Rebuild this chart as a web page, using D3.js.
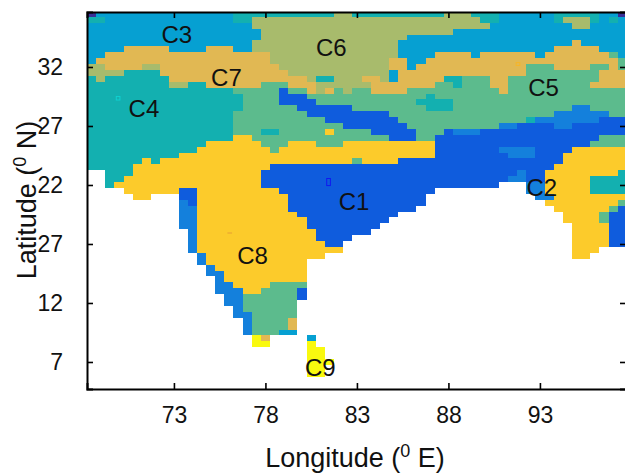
<!DOCTYPE html>
<html>
<head>
<meta charset="utf-8">
<script src="https://cdn.jsdelivr.net/npm/d3@7"></script>
<style>
  html, body { margin: 0; padding: 0; background: #fff; }
  svg { display: block; }
  text { font-family: "Liberation Sans", Arial, sans-serif; fill: #111; }
</style>
</head>
<body>
<svg id="map" width="625" height="473"></svg>
<script>
    // cluster grid, 0.5 degree cells, north to south
    // each token is code:endColumn, "." means no data
    var gridRows = [
      "0:1 3:16 4:27 6:29 4:39 6:42 4:45 3:51 4:56 3:58 0:59",
      "4:2 3:16 4:18 6:43 4:45 3:51 4:52 6:55 4:56 3:57 4:58 3:59",
      "3:18 6:44 3:53 6:55 3:59",
      "3:19 6:40 3:59",
      "3:19 6:35 3:59",
      "3:18 6:34 3:53 7:54 3:59",
      "3:4 7:9 3:13 7:16 3:18 6:34 3:51 7:56 3:59",
      "3:2 7:20 6:34 3:38 7:42 3:43 7:49 3:50 7:57 5:58 3:59",
      "3:1 7:20 6:33 7:35 3:37 7:58 5:59",
      "6:2 7:6 6:8 7:21 6:33 7:35 3:36 7:48 5:51 7:55 5:57 7:58 5:59",
      "6:4 4:8 7:22 6:33 3:34 7:48 5:56 7:59",
      "4:1 6:2 4:9 7:24 6:25 4:27 6:30 7:32 6:33 3:34 7:39 4:41 5:44 7:46 5:56 7:59",
      "4:9 6:11 4:13 7:19 5:22 7:25 6:31 7:38 5:40 4:41 5:44 7:46 5:55 7:59",
      "4:16 5:21 1:22 5:24 7:25 6:26 7:27 5:28 6:29 5:31 7:35 5:45 7:46 5:59",
      "4:17 5:21 1:24 5:37 4:38 5:59",
      "4:17 5:21 1:25 5:36 4:40 5:59",
      "4:17 5:23 1:29 5:37 4:40 5:53 2:55 5:59",
      "4:16 5:24 1:33 5:51 2:57 5:59",
      "4:16 5:26 1:34 5:48 4:49 2:56 1:59",
      "4:16 5:28 1:35 5:45 2:47 1:51 2:53 1:59",
      "4:16 5:19 4:21 5:26 8:27 5:31 1:36 5:39 1:40 2:43 1:59",
      "4:16 8:18 5:33 1:36 5:38 1:56 5:59",
      "4:13 8:19 5:22 8:25 5:28 8:38 1:55 5:59",
      "4:12 8:20 5:21 8:38 1:45 2:49 1:53 8:59",
      "4:10 8:38 1:46 2:49 1:52 8:59",
      "4:6 8:7 4:8 8:29 5:30 8:34 1:52 8:59",
      "4:5 8:20 1:51 8:59",
      ".:2 4:5 8:19 1:47 2:48 1:50 8:58 4:59",
      ".:2 4:4 8:19 1:46 2:48 1:50 8:55 4:59",
      ".:2 4:3 8:19 1:45 .:48 2:50 8:55 4:59",
      ".:4 8:10 1:12 8:21 1:38 .:48 2:50 8:55 4:59",
      ".:5 8:7 .:10 1:12 8:22 1:37 .:49 2:51 8:59",
      ".:10 2:11 1:12 8:22 1:37 .:50 8:58 5:59",
      ".:10 2:12 8:22 1:36 .:51 8:57 5:58 1:59",
      ".:10 2:12 8:23 1:34 .:52 8:56 5:57 1:59",
      ".:10 2:12 8:24 1:33 .:52 8:56 5:57 1:59",
      ".:10 2:12 8:24 1:32 .:53 8:57 1:59",
      ".:11 2:12 8:25 1:31 .:53 8:57 1:59",
      ".:11 2:12 8:25 1:29 .:53 8:57 1:59",
      ".:11 2:12 8:26 1:28 .:53 8:57 1:59",
      ".:11 2:12 8:28 .:53 8:56",
      ".:12 2:13 8:26 .:53 8:55",
      ".:12 2:13 8:24",
      ".:13 2:14 8:24",
      ".:13 2:15 8:24",
      ".:14 2:15 8:24",
      ".:14 2:16 8:20 5:24",
      ".:14 2:17 8:19 5:23 1:24",
      ".:15 2:17 5:23 1:24",
      ".:15 2:17 5:23",
      ".:16 2:17 5:23",
      ".:16 2:18 5:23",
      ".:17 2:18 5:22 7:23",
      ".:17 2:18 5:22 7:23",
      ".:17 2:18 5:21 3:23",
      ".:18 9:19 7:20 .:24 3:25",
      ".:18 9:20 .:24 9:25",
      ".:24 9:26",
      ".:24 9:26",
      ".:24 9:27",
      ".:24 9:26",
      ".:24 9:26"
    ];
    var firstLon = 68.5;
    var firstLat = 36.5;
    var cellDeg = 0.5;

    var clusterCodes = ['0', '1', '2', '3', '4', '5', '6', '7', '8', '9'];
    var clusterColors = ['#3a2e97', '#0f5cdd', '#1480dc', '#06a0d2', '#13b0b0',
      '#5cbb8d', '#a8bb6c', '#e1b853', '#fccb2b', '#f9f90f'];

    var lonTicks = [73, 78, 83, 88, 93];
    var latTicks = [32, 27, 22, 17, 12, 7];
    var latTickLabels = ['32', '27', '22', '27', '12', '7']; // the 17 really is printed as 27

    var labelNames = ['C1', 'C2', 'C3', 'C4', 'C5', 'C6', 'C7', 'C8', 'C9'];
    var labelLons = [82.84, 93.1, 73.16, 71.36, 93.2, 81.6, 75.87, 77.3, 81.0];
    var labelLats = [20.6, 21.8, 34.8, 28.5, 30.3, 33.7, 31.15, 16.0, 6.55];

    // odd single grid points that show as tiny outlined boxes
    var oddLons = [69.95, 81.45, 91.8, 76.05];
    var oddLats = [29.35, 22.25, 32.25, 17.93];
    var oddLatSpans = [0.3, 0.6, 0.25, 0.05];
    var oddColors = ['#10d0d0', '#1018f0', '#f5b52a', '#eeb030'];

    var margin = {
      top: 12,
      left: 87,
      bottom: 389
    };
    var width = 625;
    var height = 473;

    var svg = d3.select('#map');

    var xScale = d3.scaleLinear()
      .domain([68.25, 97.75])
      .range([margin.left, margin.left + 29.5 * 18.3]);
    var yScale = d3.scaleLinear()
      .domain([36.66, 4.71])
      .range([margin.top, margin.bottom]);
    var colorScale = d3.scaleOrdinal()
      .domain(clusterCodes)
      .range(clusterColors);

    // unpack the runs into one record per cell
    var cells = [];
    gridRows.forEach(function (row, r) {
      var col = 0;
      row.split(' ').forEach(function (token) {
        var parts = token.split(':');
        var end = +parts[1];
        for (; col < end; col++) {
          if (parts[0] !== '.') {
            cells.push({
              lon: firstLon + col * cellDeg,
              lat: firstLat - r * cellDeg,
              code: parts[0]
            });
          }
        }
      });
    });

    svg.append('clipPath').attr('id', 'plotClip')
      .append('rect')
      .attr('x', margin.left)
      .attr('y', margin.top)
      .attr('width', width - margin.left)
      .attr('height', margin.bottom - margin.top);

    var plot = svg.append('g').attr('clip-path', 'url(#plotClip)');

    plot.selectAll('rect.cell')
      .data(cells)
      .enter()
      .append('rect')
      .attr('class', 'cell')
      .attr('x', function (d) { return xScale(d.lon - cellDeg / 2); })
      .attr('y', function (d) { return yScale(d.lat + cellDeg / 2); })
      .attr('width', function (d) { return xScale(d.lon + cellDeg / 2) - xScale(d.lon - cellDeg / 2); })
      .attr('height', function (d) { return yScale(d.lat - cellDeg / 2) - yScale(d.lat + cellDeg / 2); })
      .attr('fill', function (d) { return colorScale(d.code); })
      .attr('shape-rendering', 'crispEdges');

    plot.selectAll('rect.odd')
      .data(oddLons)
      .enter()
      .append('rect')
      .attr('class', 'odd')
      .attr('x', function (d) { return xScale(d - 0.1); })
      .attr('y', function (d, i) { return yScale(oddLats[i] + oddLatSpans[i] / 2); })
      .attr('width', xScale(0.2) - xScale(0))
      .attr('height', function (d, i) { return yScale(0) - yScale(oddLatSpans[i]); })
      .attr('fill', 'none')
      .attr('stroke', function (d, i) { return oddColors[i]; })
      .attr('stroke-width', 1);

    var xAxis = d3.axisBottom(xScale)
      .tickValues(lonTicks)
      .tickSize(-6)
      .tickPadding(18)
      .tickFormat(d3.format('d'));
    var xAxisTop = d3.axisTop(xScale)
      .tickValues(lonTicks)
      .tickSize(-6)
      .tickFormat('');
    var yAxis = d3.axisLeft(yScale)
      .tickValues(latTicks)
      .tickSize(-6)
      .tickPadding(24)
      .tickFormat(function (d, i) { return latTickLabels[i]; });
    var yAxisRight = d3.axisRight(yScale)
      .tickValues(latTicks)
      .tickSize(-6)
      .tickFormat('');

    function styleAxis(g) {
      g.select('.domain').attr('stroke', '#000').attr('stroke-width', 2);
      g.selectAll('.tick line').attr('stroke', '#000').attr('stroke-width', 1.6);
      g.selectAll('.tick text')
        .attr('fill', '#111')
        .style('font-family', '"Liberation Sans", Arial, sans-serif')
        .style('font-size', '23px');
    }

    svg.append('g')
      .attr('transform', 'translate(0, ' + margin.bottom + ')')
      .call(xAxis)
      .call(styleAxis);
    svg.append('g')
      .attr('transform', 'translate(0, ' + margin.top + ')')
      .call(xAxisTop)
      .call(styleAxis);
    svg.append('g')
      .attr('transform', 'translate(' + margin.left + ', 0)')
      .call(yAxis)
      .call(styleAxis);
    svg.append('g')
      .attr('transform', 'translate(' + (width + 1) + ', 0)')
      .call(yAxisRight)
      .call(styleAxis);

    svg.selectAll('text.cluster')
      .data(labelNames)
      .enter()
      .append('text')
      .attr('class', 'cluster')
      .attr('x', function (d, i) { return xScale(labelLons[i]); })
      .attr('y', function (d, i) { return yScale(labelLats[i]); })
      .attr('dy', '0.36em')
      .attr('text-anchor', 'middle')
      .style('font-size', '24px')
      .text(function (d) { return d; });

    // axis titles with the raised degree zero
    function addTitle(sel, before, after) {
      sel.append('tspan').text(before);
      sel.append('tspan').attr('dy', -10).style('font-size', '18px').text('0');
      sel.append('tspan').attr('dy', 10).text(' ' + after);
    }

    var xLabel = svg.append('text')
      .attr('x', 355)
      .attr('y', 467)
      .attr('text-anchor', 'middle')
      .style('font-size', '27px');
    addTitle(xLabel, 'Longitude (', 'E)');

    var yLabel = svg.append('text')
      .attr('transform', 'translate(36, 200) rotate(-90)')
      .attr('text-anchor', 'middle')
      .style('font-size', '27px');
    addTitle(yLabel, 'Latitude (', 'N)');
</script>
</body>
</html>
